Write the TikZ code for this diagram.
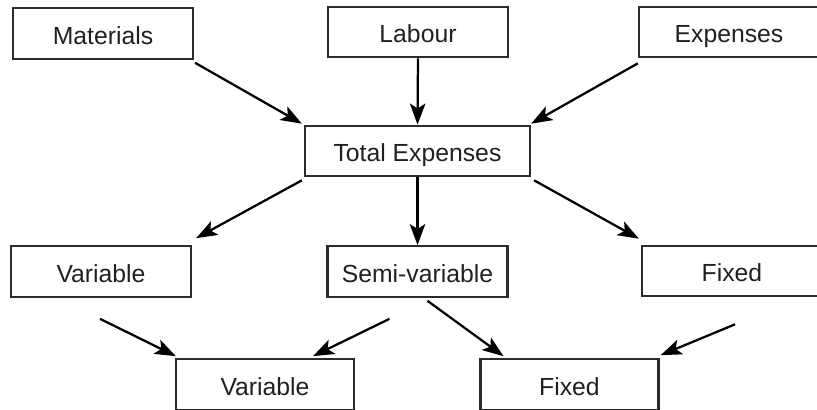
\documentclass[tikz,border=0pt]{standalone}
\usepackage{fontspec}
\setmainfont{Liberation Sans}
\usetikzlibrary{arrows.meta}
\definecolor{ink}{HTML}{231F20}

\begin{document}
\begin{tikzpicture}[x=0.025cm,y=-0.025cm,
  box/.style={draw=ink!95, line width=1.6pt, minimum width=4.5cm, minimum height=1.26cm,
    inner sep=0pt, text height=15pt, text depth=0pt, text=ink, font=\fontsize{17.6}{20}\selectfont},
  arr/.style={line width=1.6pt, -{Stealth[length=15pt,width=11pt,inset=3.5pt]}}]
\useasboundingbox (0,0) rectangle (817,409);
\clip (0,0) rectangle (817,409);
\node[box] (mat) at (103,33.5) {Materials};
\node[box] (lab) at (418,32) {Labour};
\node[box] (exp) at (729,32) {Expenses};
\node[box, minimum width=5.625cm] (tot) at (417.5,151) {Total Expenses};
\node[box] (varl) at (101,271.5) {Variable};
\node[box] (semi) at (417.5,271.5) {Semi-variable};
\node[box] (fixr) at (732,271) {Fixed};
\node[box, minimum width=4.45cm] (varb) at (265,384.5) {Variable};
\node[box, minimum width=4.45cm] (fixb) at (569.5,384.5) {Fixed};
% top row to total
\draw[arr] ([shift={(1,3)}]mat.south east) -- ([shift={(-2,-1)}]tot.north west);
\draw[arr] (lab.south) -- (tot.north);
\draw[arr] ([shift={(0,5)}]exp.south west) -- ([shift={(0,-1)}]tot.north east);
% total to middle row
\draw[arr] ([shift={(-2,3)}]tot.south west) -- ([shift={(4,-7)}]varl.north east);
\draw[arr] (tot.south) -- (semi.north);
\draw[arr] ([shift={(3,3)}]tot.south east) -- ([shift={(-2,-6)}]fixr.north west);
% middle row to bottom row
\draw[arr] ([shift={(-1,21)}]varl.south) -- ([shift={(1,-2)}]varb.north west);
\draw[arr] ([shift={(-28,21)}]semi.south) -- ([shift={(48,-2)}]varb.north);
\draw[arr] ([shift={(10,3)}]semi.south) -- ([shift={(-66,-2)}]fixb.north);
\draw[arr] ([shift={(3,27)}]fixr.south) -- ([shift={(1,-3)}]fixb.north east);
\end{tikzpicture}
\end{document}
